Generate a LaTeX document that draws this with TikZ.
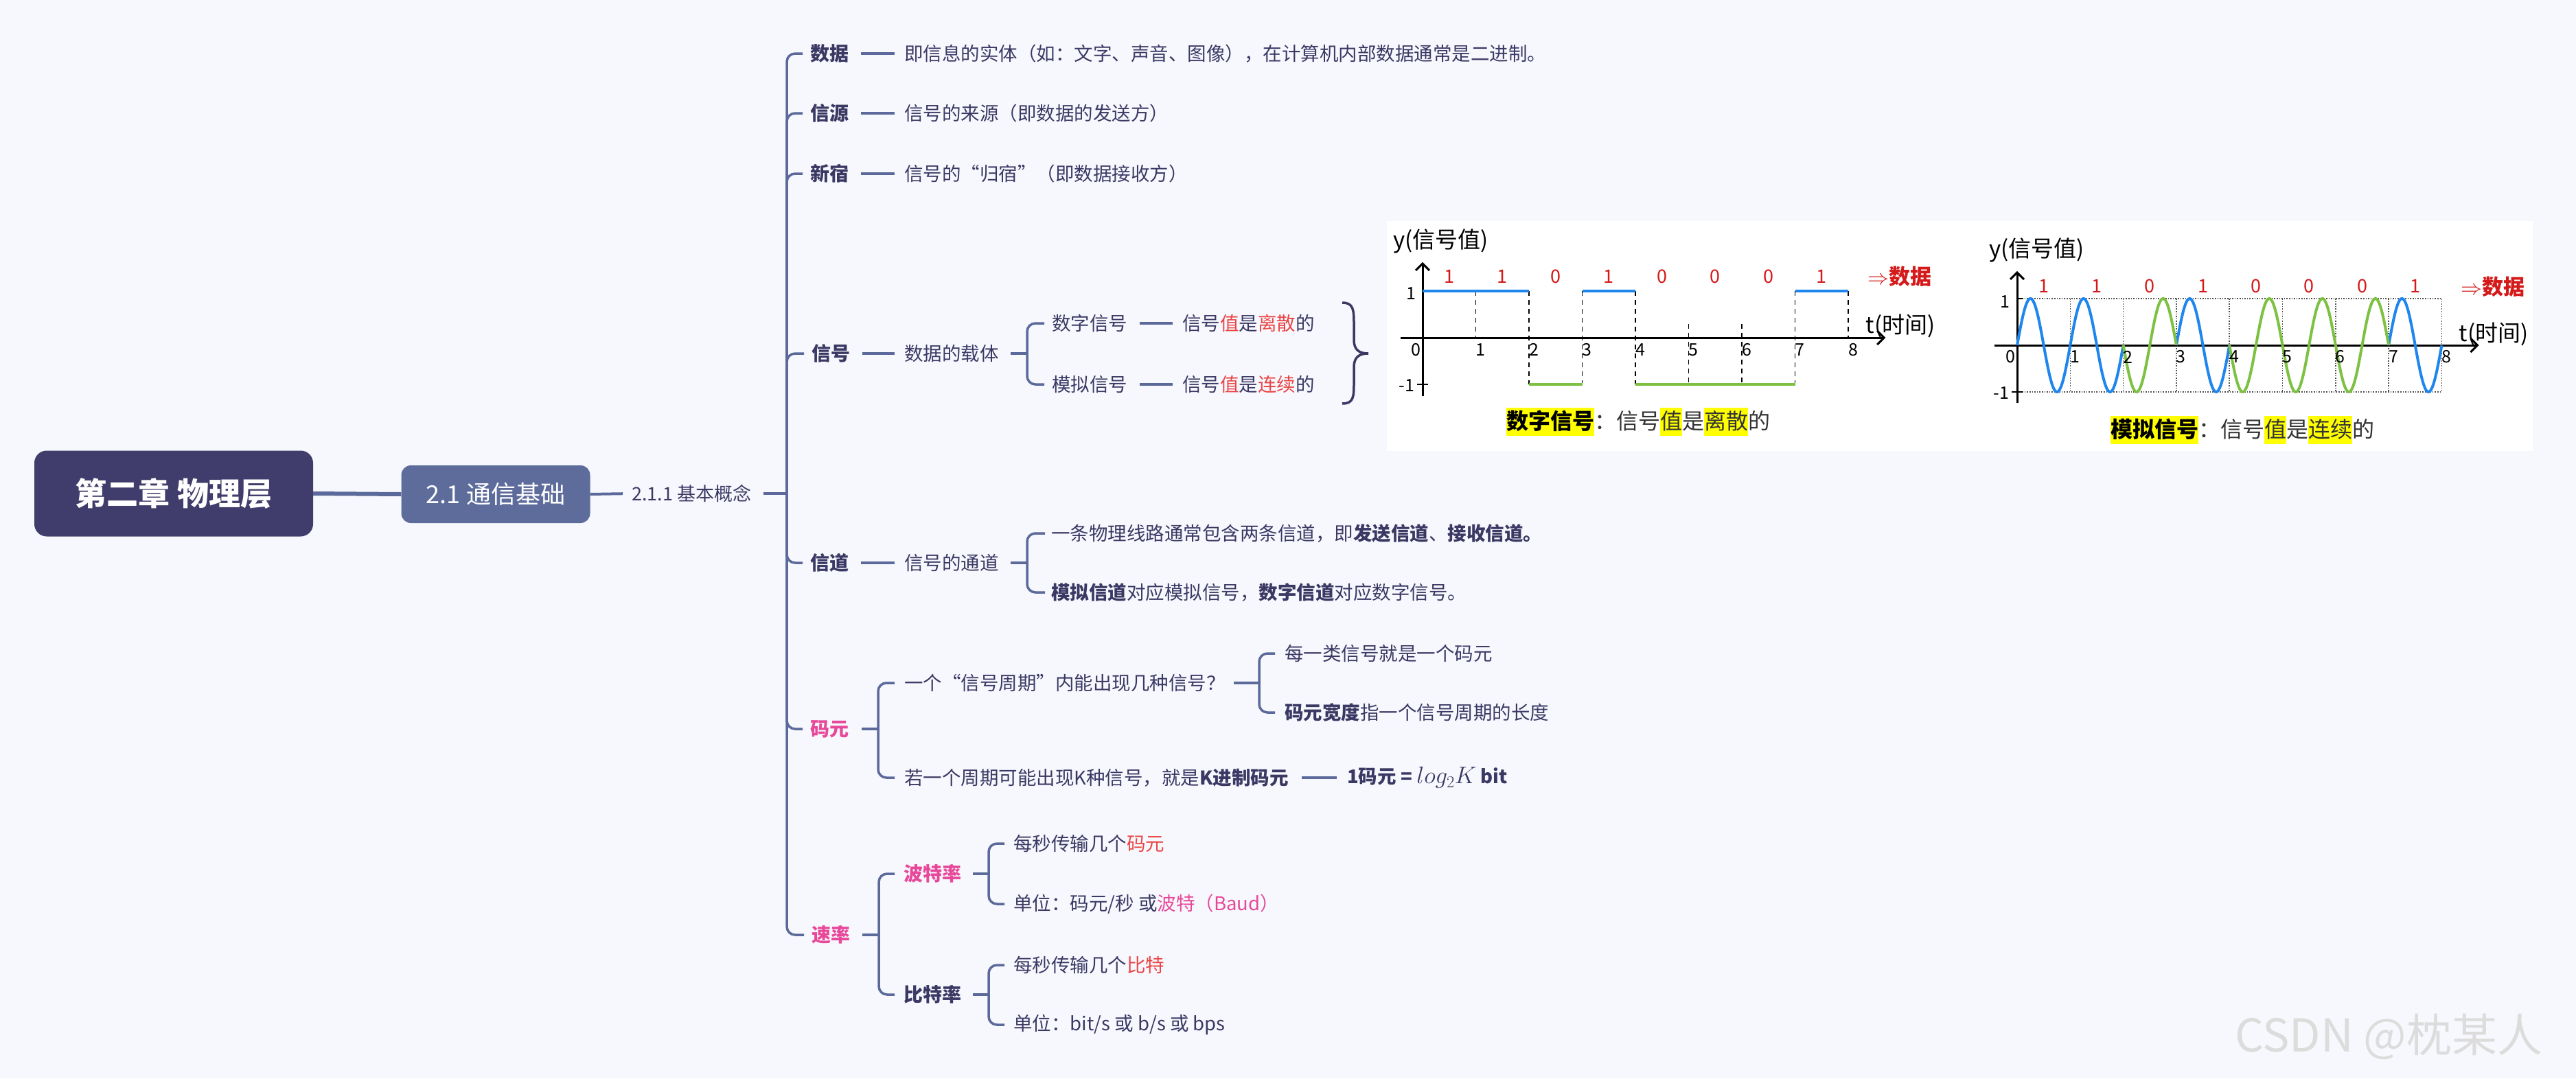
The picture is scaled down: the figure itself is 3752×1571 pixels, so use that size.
\RequirePackage{fix-cm}
\documentclass[tikz,border=0pt]{standalone}
\usepackage{fontspec}
\setmainfont{Noto Sans CJK SC}
\usetikzlibrary{arrows.meta}
\definecolor{bgc}{HTML}{F7F8FD}
\definecolor{rootc}{HTML}{403D6C}
\definecolor{subc}{HTML}{5E6C9C}
\definecolor{linec}{HTML}{5C6A9B}
\definecolor{navy}{HTML}{3B3964}
\definecolor{pinkc}{HTML}{E8489A}
\definecolor{redc}{HTML}{EA4545}
\definecolor{hred}{HTML}{D41A1A}
\definecolor{sblue}{HTML}{1F86EE}
\definecolor{sgreen}{HTML}{7DC143}
\definecolor{hly}{HTML}{FFFF00}
\definecolor{capg}{HTML}{333333}
\definecolor{wmc}{HTML}{DCDCDC}
\newcommand\myfs[1]{\fontsize{#1}{#1}\selectfont}
\newcommand\myhl[1]{\begingroup\setlength\fboxsep{0pt}\colorbox{hly}{\rule[-10pt]{0pt}{41pt}#1}\endgroup}
\newcommand\rd[1]{\textcolor{redc}{#1}}
\newcommand\pk[1]{\textcolor{pinkc}{#1}}
\begin{document}
\begin{tikzpicture}[x=1pt,y=-1pt,
  lvl/.style={anchor=west,inner sep=0pt,font=\myfs{28}\bfseries,text=navy},
  txt/.style={anchor=west,inner sep=0pt,font=\myfs{27.5},text=navy},
  conn/.style={draw=linec,line width=3.5pt,shorten <=18pt,shorten >=14pt},
  branch/.style={draw=linec,line width=3.5pt,rounded corners=12pt},
  axis/.style={draw=black,line width=3pt,-{Straight Barb[length=10pt,width=20pt]}},
  hand/.style={inner sep=0pt,font=\myfs{25},text=black},
  bit/.style={inner sep=0pt,font=\myfs{27},text=hred},
  hlab/.style={inner sep=0pt,font=\myfs{33},text=black},
]
\useasboundingbox (0,0) rectangle (3752,1571);
\fill[bgc] (0,0) rectangle (3752,1571);

% ---------- root and section ----------
\node[fill=rootc, rounded corners=18pt, minimum width=406pt, minimum height=125pt, inner sep=0pt, text=white, font=\myfs{46}\bfseries] (root) at (253,719) {第二章 物理层};
\node[fill=subc, rounded corners=14pt, minimum width=275pt, minimum height=84pt, inner sep=0pt, text=white, font=\myfs{36}] (sec) at (722,720) {2.1 通信基础};
\node[txt, font=\myfs{27}] (sub) at (920,719) {2.1.1 基本概念};
\draw[linec, line width=6pt] (root.east) -- (sec.west);
\draw[linec, line width=4pt, shorten >=13pt] (sec.east) -- (sub.west);
\coordinate (sp) at (1146,719);
\draw[linec, line width=4pt, shorten <=18pt] (sub.east) -- (sp);

% ---------- level 3 ----------
\node[lvl] (shuju) at (1180,78) {数据};
\node[lvl] (xinyuan) at (1180,165) {信源};
\node[lvl] (xinsu) at (1180,253) {新宿};
\node[lvl] (xinhao) at (1182,515) {信号};
\node[lvl] (xindao) at (1180,820) {信道};
\node[lvl, text=pinkc] (maoyuan) at (1180,1062) {码元};
\node[lvl, text=pinkc] (sulv) at (1182,1362) {速率};
\foreach \n in {shuju,xinyuan,xinsu,xinhao,xindao,maoyuan,sulv}
  \draw[branch] (sp) |- ([xshift=-11pt]\n.west);

% ---------- texts ----------
\node[txt] (t1) at (1317,78) {即信息的实体（如：文字、声音、图像），在计算机内部数据通常是二进制。};
\node[txt] (t2) at (1317,165) {信号的来源（即数据的发送方）};
\node[txt] (t3) at (1317,253) {信号的“归宿”（即数据接收方）};
\node[txt] (t4) at (1317,515) {数据的载体};
\node[txt] (t5) at (1317,820) {信号的通道};
\draw[conn] (shuju.east) -- (t1.west);
\draw[conn] (xinyuan.east) -- (t2.west);
\draw[conn] (xinsu.east) -- (t3.west);
\draw[conn] (xinhao.east) -- (t4.west);
\draw[conn] (xindao.east) -- (t5.west);

% signal
\node[txt] (s1) at (1532,471) {数字信号};
\node[txt] (s2) at (1532,560) {模拟信号};
\node[txt] (s1t) at (1722,471) {信号\rd{值}是\rd{离散}的};
\node[txt] (s2t) at (1722,560) {信号\rd{值}是\rd{连续}的};
\coordinate (b1) at (1496,515);
\draw[conn, shorten >=0pt, shorten <=17pt] (t4.east) -- (b1);
\draw[branch] (b1) |- ([xshift=-11pt]s1.west);
\draw[branch] (b1) |- ([xshift=-11pt]s2.west);
\draw[conn] (s1.east) -- (s1t.west);
\draw[conn] (s2.east) -- (s2t.west);
\draw[navy, line width=3.5pt] (1955,441) .. controls (1972,441) and (1972,452) .. (1972,475)
  -- (1972,495) .. controls (1972,510) and (1980,515) .. (1993,515)
  .. controls (1980,515) and (1972,520) .. (1972,535)
  -- (1972,555) .. controls (1972,578) and (1972,588) .. (1955,588);

% channel
\node[txt] (d1) at (1531,777) {一条物理线路通常包含两条信道，即\textbf{发送信道}、\textbf{接收信道。}};
\node[txt] (d2) at (1531,863) {\textbf{模拟信道}对应模拟信号，\textbf{数字信道}对应数字信号。};
\coordinate (b2) at (1496,820);
\draw[conn, shorten >=0pt, shorten <=17pt] (t5.east) -- (b2);
\draw[branch] (b2) |- ([xshift=-9pt]d1.west);
\draw[branch] (b2) |- ([xshift=-9pt]d2.west);

% symbol
\node[txt] (c1) at (1317,995) {一个“信号周期”内能出现几种信号？};
\node[txt] (c2) at (1317,1133) {若一个周期可能出现K种信号，就是\textbf{K进制码元}};
\coordinate (b3) at (1279,1062);
\draw[conn, shorten >=0pt, shorten <=19pt] (maoyuan.east) -- (b3);
\draw[branch] (b3) |- ([xshift=-14pt]c1.west);
\draw[branch] (b3) |- ([xshift=-14pt]c2.west);
\node[txt] (c11) at (1871,952) {每一类信号就是一个码元};
\node[txt] (c12) at (1871,1038) {\textbf{码元宽度}指一个信号周期的长度};
\coordinate (b4) at (1834,995);
\draw[conn, shorten >=0pt, shorten <=12pt] (c1.east) -- (b4);
\draw[branch] (b4) |- ([xshift=-14pt]c11.west);
\draw[branch] (b4) |- ([xshift=-14pt]c12.west);
\node[txt, font=\myfs{27.5}\bfseries] (c21) at (1962,1133) {1码元 = {\myfs{35}$log_2K$} bit};
\draw[conn, shorten <=19pt, shorten >=15pt] (c2.east) -- (c21.west);

% rate
\node[lvl, text=pinkc] (bote) at (1316,1273) {波特率};
\node[lvl] (bite) at (1316,1449) {比特率};
\coordinate (b5) at (1280,1362);
\draw[conn, shorten >=0pt, shorten <=18pt] (sulv.east) -- (b5);
\draw[branch] (b5) |- ([xshift=-13pt]bote.west);
\draw[branch] (b5) |- ([xshift=-13pt]bite.west);
\node[txt] (r1) at (1476,1229) {每秒传输几个\rd{码元}};
\node[txt] (r2) at (1476,1317) {单位：码元/秒 或\pk{波特（Baud）}};
\node[txt] (r3) at (1476,1406) {每秒传输几个\rd{比特}};
\node[txt] (r4) at (1476,1493) {单位：bit/s 或 b/s 或 bps};
\coordinate (b6) at (1440,1273);
\coordinate (b7) at (1440,1449);
\draw[conn, shorten >=0pt, shorten <=17pt] (bote.east) -- (b6);
\draw[conn, shorten >=0pt, shorten <=17pt] (bite.east) -- (b7);
\draw[branch] (b6) |- ([xshift=-13pt]r1.west);
\draw[branch] (b6) |- ([xshift=-13pt]r2.west);
\draw[branch] (b7) |- ([xshift=-13pt]r3.west);
\draw[branch] (b7) |- ([xshift=-13pt]r4.west);

% ---------- pictures ----------
\fill[white] (2020,322) rectangle (3689,657);

% digital signal
\begin{scope}[shift={(2072pt,-492pt)}, x=77.5pt, y=68pt]
  \foreach \a/\b in {1/0,2/-1,3/-1,4/-1,7/-1,8/0}
    \draw[black, line width=1.8pt, dash pattern=on 7pt off 6pt] (\a,1) -- (\a,\b);
  \foreach \a in {5,6}
    \draw[black, line width=1.8pt, dash pattern=on 7pt off 6pt] (\a,0.3) -- (\a,-1);
  \draw[axis] (-0.41,0) -- (8.7,0);
  \draw[axis] (0,-1.25) -- (0,1.62);
  \draw[black, line width=2.5pt] (-0.1,-1) -- (0.1,-1);
  \draw[sblue, line width=4pt] (0,1) -- (2,1) (3,1) -- (4,1) (7,1) -- (8,1);
  \draw[sgreen, line width=4pt] (2,-1) -- (3,-1) (4,-1) -- (7,-1);
  \node[hand] at (-0.12,-0.26) {0};
  \foreach \k in {1,...,8} \node[hand] at (\k+0.09,-0.26) {\k};
  \node[hand] at (-0.22,0.94) {1};
  \node[hand] at (-0.3,-1.03) {-1};
  \foreach \b [count=\i from 0] in {1,1,0,1,0,0,0,1} \node[bit] at (\i+0.5,1.31) {\b};
  \node[bit, font=\myfs{31}\bfseries] at (8.97,1.31) {$\Rightarrow$数据};
  \node[hlab] at (8.98,0.25) {t(时间)};
  \node[hlab, anchor=west] at (-0.55,2.06) {y(信号值)};
\end{scope}

% analog signal
\begin{scope}[shift={(2938pt,-503pt)}, x=77.3pt, y=68pt]
  \draw[black!70, line width=1.6pt, dotted] (0,1) -- (8,1) (0,-1) -- (8,-1);
  \foreach \k in {1,...,8} \draw[black!70, line width=1.6pt, dotted] (\k,1) -- (\k,-1);
  \draw[axis] (-0.43,0) -- (8.7,0);
  \draw[axis] (0,-1.24) -- (0,1.59);
  \draw[black, line width=2.5pt] (-0.1,-1) -- (0.1,-1) (0,1) -- (0.1,1);
  \foreach \k in {0,1,3,7}
    \draw[sblue, line width=4pt] plot[domain=0:1, samples=60] ({\k+\x},{sin(360*\x)});
  \foreach \k in {2,4,5,6}
    \draw[sgreen, line width=4pt] plot[domain=0:1, samples=60] ({\k+\x},{-sin(360*\x)});
  \node[hand] at (-0.12,-0.25) {0};
  \foreach \k in {1,...,8} \node[hand] at (\k+0.09,-0.25) {\k};
  \node[hand] at (-0.23,0.93) {1};
  \node[hand] at (-0.3,-1.03) {-1};
  \foreach \b [count=\i from 0] in {1,1,0,1,0,0,0,1} \node[bit] at (\i+0.5,1.26) {\b};
  \node[bit, font=\myfs{31}\bfseries] at (8.96,1.26) {$\Rightarrow$数据};
  \node[hlab] at (8.98,0.24) {t(时间)};
  \node[hlab, anchor=west] at (-0.53,2.04) {y(信号值)};
\end{scope}

% captions
\node[anchor=base west, inner sep=0pt, font=\myfs{32}, text=capg] (cap1) at (2194,625)
  {\textbf{\textcolor{black}{\myhl{数字信号}}}：信号\myhl{值}是\myhl{离散}的};
\node[anchor=base west, inner sep=0pt, font=\myfs{32}, text=capg] (cap2) at (3074,637)
  {\textbf{\textcolor{black}{\myhl{模拟信号}}}：信号\myhl{值}是\myhl{连续}的};

% watermark
\node[anchor=west, inner sep=0pt, font=\myfs{66}, text=wmc] (wm) at (3255,1510) {CSDN @枕某人};
\end{tikzpicture}
\end{document}
